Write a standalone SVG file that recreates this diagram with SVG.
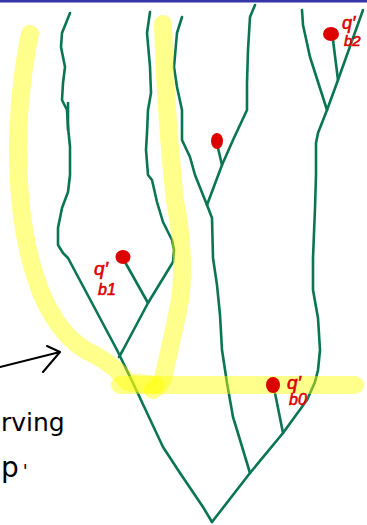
<svg xmlns="http://www.w3.org/2000/svg" width="367" height="525" viewBox="0 0 367 525">
<style>
.br{fill:none;stroke:#0a7552;stroke-width:2.6;stroke-linecap:round;stroke-linejoin:round}
.hl{fill:none;stroke:#ffff00;stroke-opacity:0.45;stroke-width:18;stroke-linecap:round;stroke-linejoin:round}
.dot{fill:#dd0000}
.lbl{fill:#dd0000;stroke:#dd0000;stroke-width:0.6;font-family:"Liberation Sans",Arial,sans-serif;font-style:italic}
.hand{fill:#000;font-family:"DejaVu Sans","Liberation Sans",sans-serif}
.ink{fill:none;stroke:#000;stroke-width:2;stroke-linecap:round;stroke-linejoin:round}
</style>
<rect x="0" y="0" width="367" height="525" fill="#ffffff"/>
<rect x="0" y="0" width="367" height="2.5" fill="#3535a8"/>
<g id="connectors">
<path class="br" d="M70,13 L62,33 L61,47 L65,67 L63,83 L62,100 L67,110 L68,127 L70,147 L70,175 L68,192 L62,208 L58,228 L58,245 L63,253 L68,258 L117,350 L133,383 L163,447 L180,473 L203,507 L212,522"/>
<path class="br" d="M68,103 L68,130"/>
<path class="br" d="M150,12 L147,33 L150,67 L151,93 L148,110 L147,133 L146,150 L148,175 L152,180 L157,202 L163,222 L172,240 L174,250 L173,262 L148,303 L123,350 L119,357"/>
<path class="br" d="M148,303 L125,262"/>
<path class="br" d="M182,17 L177,33 L174,67 L177,87 L182,110 L182,140 L190,157 L195,175 L207,205 L212,218 L213,258 L217,285 L220,315 L222,350 L227,383 L233,417 L237,430 L250,473"/>
<path class="br" d="M255,5 L250,17 L248,50 L247,83 L247,110 L233,140 L222,165 L207,205"/>
<path class="br" d="M222,165 L218,148"/>
<path class="br" d="M212,522 L250,473 L283,433 L307,400 L315,382 L318,370 L320,350 L318,318 L313,290 L313,258 L315,208 L316,175 L316,143 L318,133 L327,110 L310,57 L303,25 L302,10"/>
<path class="br" d="M327,110 L338,80 L363,10"/>
<path class="br" d="M338,80 L333,40"/>
<path class="br" d="M283,433 L275,393"/>
</g>
<g id="highlights">
<path class="hl" d="M30,34 Q20,80 18,140 Q17,230 40,290 Q60,340 95,355 Q118,368 127,382 L155,385"/>
<path class="hl" d="M163,24 Q166,120 175,200 Q186,260 180,300 Q172,340 166,365 Q163,385 153,390"/>
<path class="hl" d="M120,385 L355,385"/>
</g>
<g id="node-b2">
<ellipse class="dot" cx="331" cy="34" rx="8" ry="7"/>
<text class="lbl" x="342" y="29" font-size="18">q′</text>
<text class="lbl" x="344" y="46" font-size="15">b2</text>
</g>
<g id="node-mid">
<ellipse class="dot" cx="217" cy="141" rx="6" ry="8"/>
</g>
<g id="node-b1">
<ellipse class="dot" cx="123" cy="257" rx="7.5" ry="7"/>
<text class="lbl" x="94" y="275" font-size="19">q′</text>
<text class="lbl" x="98" y="295" font-size="16">b1</text>
</g>
<g id="node-b0">
<ellipse class="dot" cx="273" cy="385" rx="7" ry="8"/>
<text class="lbl" x="287" y="389" font-size="19">q′</text>
<text class="lbl" x="289" y="405" font-size="16">b0</text>
</g>
<g id="annotation">
<path class="ink" d="M0,367 L60,352 M47,346 L60,352 L43,372"/>
<text class="hand" x="1" y="431" font-size="25">rving</text>
<text class="hand" x="1" y="477" font-size="28">p<tspan dx="4" font-size="18">'</tspan></text>
</g>
</svg>
